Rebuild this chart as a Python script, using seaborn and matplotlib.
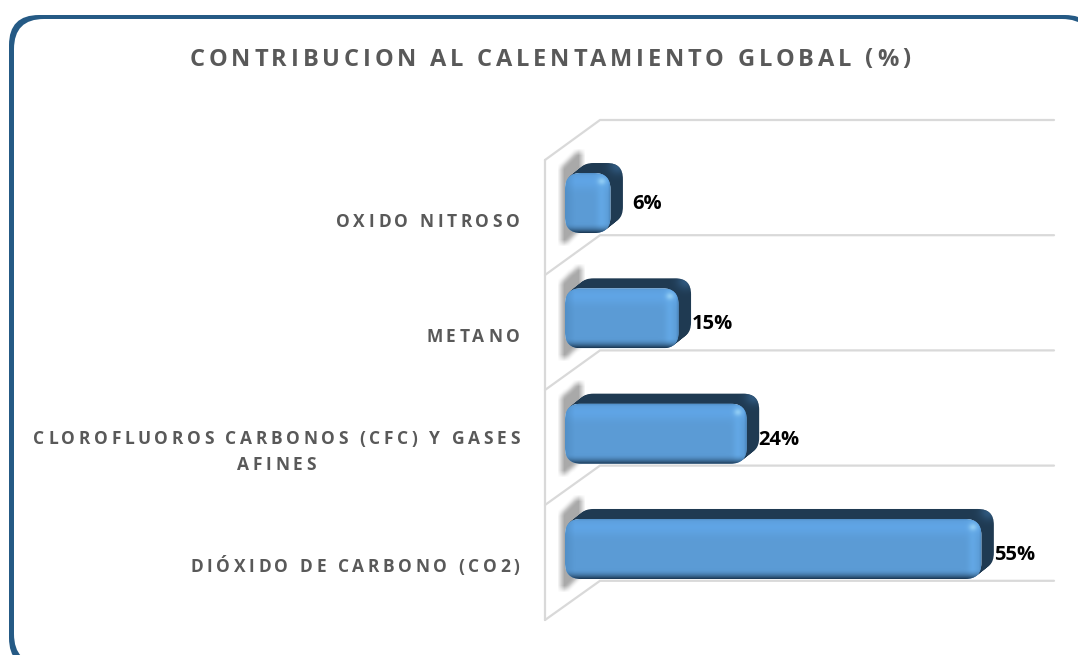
import numpy as np
import pandas as pd
import matplotlib
matplotlib.use("Agg")
import matplotlib.pyplot as plt
import seaborn as sns
from matplotlib.patches import FancyBboxPatch
from matplotlib.path import Path
from matplotlib.transforms import Affine2D
import types

# ---- data ----
title_text = "CONTRIBUCION AL CALENTAMIENTO GLOBAL (%)"
categories = ["OXIDO NITROSO", "METANO", "CLOROFLUOROS CARBONOS (CFC) Y GASES\nAFINES", "DIÓXIDO DE CARBONO (CO2)"]
percent = [6, 15, 24, 55]

# ---- style ----
W, H = 1078, 655
FONT = "Open Sans"
GREY = "#595959"
BASE = "#5B9BD5"
DARK = "#1F3A52"
FRAME = "#255A85"
GRID = "#D9D9D9"
DX, DY = 12.5, -10      # extrusion depth, pixels
RAD = 16
label_pad = [22, 13, 12, 13]
label_dy = [1, 6, 6, 6]

sns.set_theme(style="white")
plt.rcParams["font.family"] = [FONT, "DejaVu Sans"]

fig = plt.figure(figsize=(W / 100, H / 100), dpi=100, facecolor="white")
pix = Affine2D().scale(1, -1).translate(0, H)   # image pixels -> display

# --- tracked text: keeps the whole string, spaces its glyphs when drawn
def tracked(label, track, leading=26):
    def draw(self, renderer):
        if not self.get_visible():
            return
        prop = self.get_fontproperties()
        x, y = self.get_transform().transform(self.get_unitless_position())
        meas = lambda s: renderer.get_text_width_height_descent(s, prop, False)[0]
        base = meas("xx")
        adv = lambda c: meas("x" + c + "x") - base
        lines = self.get_text().split("\n")
        widths = [sum(adv(c) for c in ln) + track * (len(ln) - 1) for ln in lines]
        block = max(widths)
        cap = renderer.get_text_width_height_descent("H", prop, False)[1]
        ha = self.get_horizontalalignment()
        left = {"right": x - block, "center": x - block / 2, "left": x}[ha]
        top0 = y + leading * (len(lines) - 1) / 2
        gc = renderer.new_gc()
        gc.set_foreground(self.get_color())
        for i, (ln, wd) in enumerate(zip(lines, widths)):
            px = left + (block - wd) / 2
            base_y = top0 - i * leading - cap / 2
            for c in ln:
                if c != " ":
                    renderer.draw_text(gc, px, H - base_y, c, prop, 0)
                px += adv(c) + track
        gc.restore()
    label.draw = types.MethodType(draw, label)

# --- outer frame
for (x0, y0, x1, y1, col) in [(9, 15, 1095, 668, FRAME), (14, 19, 1092, 664, "white")]:
    fig.add_artist(FancyBboxPatch((x0, y0), x1 - x0, y1 - y0,
                                  boxstyle="round,pad=0,rounding_size=30",
                                  transform=pix, fc=col, ec="none", zorder=-5))

# --- axes: value axis starts at the front face of the bars
AX_L, AX_R, AX_T, AX_B = 565, 1054, 145.35, 606.65
ax = fig.add_axes([AX_L / W, 1 - AX_B / H, (AX_R - AX_L) / W, (AX_B - AX_T) / H])
df = pd.DataFrame({"gas": categories, "pct": percent})
sns.barplot(data=df, y="gas", x="pct", orient="h", color=BASE, saturation=1,
            width=60 / 115.3, ax=ax)
ax.set_autoscale_on(False)
ax.set_xlim(0, (AX_R - AX_L) / 7.57)
ax.set_ylim(3.5, -0.5)
ax.patch.set_visible(False)
sns.despine(ax=ax, left=True, bottom=True)
ax.set_xlabel("")
ax.set_ylabel("")
ax.set_xticks([])
ax.set_yticks(np.arange(len(categories)) + 17 / 115.3, categories)
ax.tick_params(axis="y", length=0, pad=32.8)
for lab in ax.get_yticklabels():
    lab.set_fontfamily([FONT, "DejaVu Sans"])
    lab.set_fontweight("bold")
    lab.set_fontsize(12.5)
    lab.set_color(GREY)
    tracked(lab, 3.6)

# --- 3-D walls (light grey frame behind the bars)
wall_x0, wall_x1, wall_end = 545, 600, AX_R
for k in range(5):
    yf = 160 + 115 * k
    yb = 120 + 115.2 * k
    ax.plot([wall_x0, wall_x1, wall_end], [yf, yb, yb], color=GRID, lw=1.6,
            transform=pix, clip_on=False, zorder=1, solid_joinstyle="miter")
ax.plot([wall_x0, wall_x0], [160, 620], color=GRID, lw=1.6, transform=pix, clip_on=False, zorder=1)

def rgb(c):
    return np.array(matplotlib.colors.to_rgb(c))

def mix(img, col, t):
    return img * (1 - t[..., None]) + rgb(col) * t[..., None]

def box_blur(a, n):
    k = np.ones(n) / n
    for ax_i in (0, 1):
        a = np.apply_along_axis(lambda v: np.convolve(v, k, mode="same"), ax_i, a)
    return a

def rbox(x0, y0, x1, y1, **kw):
    return FancyBboxPatch((x0, y0), x1 - x0, y1 - y0,
                          boxstyle=f"round,pad=0,rounding_size={RAD}",
                          transform=pix, ec="none", clip_on=False, **kw)

to_pix = ax.transData + pix.inverted()
bars = list(ax.patches)
for i, bar in enumerate(bars):
    (x0, y0), (x1, y1) = to_pix.transform([(bar.get_x(), bar.get_y()),
                                           (bar.get_x() + bar.get_width(), bar.get_y() + bar.get_height())])
    # soft shadow on the side wall
    sx0, sx1, sy0, sy1 = int(x0 - 15), int(x0 + 30), int(y0 - 35), int(y1 + 25)
    gx, gy = np.meshgrid(np.arange(sx0, sx1) + .5, np.arange(sy0, sy1) + .5)
    poly = Path([(x0 - 4, y0 - 6), (x0 + 12, y0 - 21), (x0 + 17, y0 - 21), (x0 + 17, y1 - 5),
                 (x0 + 1, y1 + 10), (x0 - 4, y1 + 10)])
    m = poly.contains_points(np.c_[gx.ravel(), gy.ravel()]).reshape(gx.shape).astype(float)
    m = box_blur(m, 7)
    shadow = np.dstack([np.full_like(m, .55)] * 3 + [m * .75])
    ax.imshow(shadow, extent=(sx0, sx1, sy1, sy0), transform=pix, aspect="auto",
              zorder=2, clip_on=False, interpolation="bilinear")

    # extrusion: swept copies of the face toward the back
    steps = 14
    for s in range(1, steps + 1):
        f = s / steps
        ax.add_patch(rbox(x0 + DX * f, y0 + DY * f, x1 + DX * f, y1 + DY * f, fc=DARK, zorder=3))
    back = rbox(x0 + DX, y0 + DY, x1 + DX, y1 + DY, fc="none", zorder=3)
    ax.add_patch(back)
    bx0, by0 = int(x1 + DX - 26), int(y0 + DY - 2)
    gx, gy = np.meshgrid(np.arange(bx0, bx0 + 30) + .5, np.arange(by0, by0 + 30) + .5)
    glow = np.exp(-(((gx - (x1 + DX - 5)) / 9) ** 2 + ((gy - (y0 + DY + 3)) / 8) ** 2))
    im = ax.imshow(np.dstack([np.full_like(glow, c) for c in rgb("#30597F")] + [glow]),
                   extent=(bx0, bx0 + 30, by0 + 30, by0), transform=pix, aspect="auto",
                   zorder=3.5, interpolation="bilinear")
    im.set_clip_path(back)

    # rounded front face: the bar itself, clipped, plus shading
    face = rbox(x0, y0, x1, y1, fc="none", zorder=4)
    ax.add_patch(face)
    bar.set_zorder(5)
    bar.set_clip_path(face)
    nx, ny = int(round(x1 - x0)), int(round(y1 - y0))
    gx, gy = np.meshgrid(np.arange(nx) + .5, np.arange(ny) + .5)
    top, bot, lef, rig = gy, ny - gy, gx, nx - gx
    img = np.ones((ny, nx, 3)) * rgb(BASE)
    img = mix(img, "#60A5E6", np.exp(-((top - 9) / 8) ** 2) * .95)
    img = mix(img, "#64AAE8", np.exp(-((rig - 9) / 5) ** 2) * .8)
    img = mix(img, "#4A86BC", np.clip(1 - lef / 10, 0, 1) * .6)
    img = mix(img, "#3F78AD", np.clip(1 - rig / 3, 0, 1) * .7)
    img = mix(img, "#3F78AD", np.clip(1 - top / 3, 0, 1) * .6)
    img = mix(img, "#17324C", np.clip(1 - bot / 10, 0, 1) ** 2)
    img = mix(img, "#9AD4F8", np.exp(-(((rig - 9) / 4) ** 2 + ((top - 9) / 3.5) ** 2)) * .8)
    im = ax.imshow(img, extent=(x0, x1, y1, y0), transform=pix, aspect="auto",
                   zorder=6, interpolation="bilinear")
    im.set_clip_path(face)

# --- value labels
for i, v in enumerate(percent):
    ax.annotate(f"{v}%", xy=(v, i), xytext=(label_pad[i] * .72, -label_dy[i] * .72),
                textcoords="offset points", ha="left", va="center",
                fontfamily=[FONT, "DejaVu Sans"], fontweight="bold", fontsize=14.5,
                color="black", zorder=8, annotation_clip=False)

# --- title
t = fig.suptitle(title_text, x=550 / W, y=1 - 57 / H, ha="center", va="center",
                 fontfamily=[FONT, "DejaVu Sans"], fontweight="bold", fontsize=17, color=GREY)
tracked(t, 3.8)

fig.savefig("out.png", dpi=100)
